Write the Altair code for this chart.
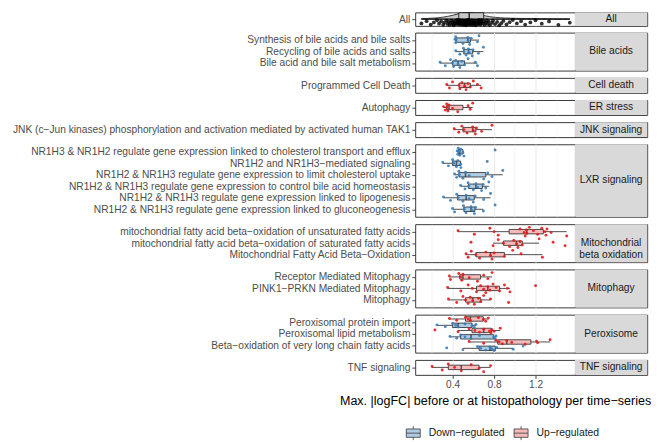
import altair as alt
import pandas as pd

DOWN = "Down−regulated"
UP = "Up−regulated"
DIRS = [DOWN, UP]
POINT_COLORS = ["#377EB8", "#E41A1C"]
BOX_FILLS = ["#AFCBE3", "#F7BABB"]
TITLE = "Max. |logFC| before or at histopathology per time−series"
GRID_VALUES = [0.2, 0.4, 0.6, 0.8, 1.0, 1.2, 1.4]

# "All" distribution
all_values = [
    0.10, 0.15, 0.19, 0.22, 0.25, 0.27, 0.29, 0.31, 0.32, 0.34, 0.35, 0.36, 0.37,
    0.38, 0.39, 0.40, 0.405, 0.41, 0.42, 0.425, 0.43, 0.44, 0.445, 0.45, 0.455, 0.46,
    0.465, 0.47, 0.475, 0.48, 0.485, 0.49, 0.495, 0.50, 0.505, 0.51, 0.515, 0.52,
    0.522, 0.525, 0.53, 0.533, 0.536, 0.54, 0.543, 0.546, 0.55, 0.552, 0.555, 0.558,
    0.56, 0.565, 0.57, 0.575, 0.58, 0.585, 0.59, 0.595, 0.60, 0.605, 0.61, 0.615,
    0.62, 0.625, 0.63, 0.64, 0.645, 0.65, 0.655, 0.66, 0.665, 0.67, 0.675, 0.68,
    0.69, 0.70, 0.71, 0.72, 0.73, 0.74, 0.75, 0.76, 0.78, 0.79, 0.81, 0.83, 0.85,
    0.87, 0.89, 0.92, 0.95, 0.98, 1.02, 1.06, 1.10, 1.15, 1.20, 1.26, 1.33, 1.42, 1.53,
]

bile_synthesis = [0.425, 0.43, 0.43, 0.435, 0.50, 0.547, 0.55, 0.565, 0.58, 0.64, 0.655]
bile_recycling = [0.431, 0.47, 0.505, 0.51, 0.53, 0.553, 0.56, 0.59, 0.598, 0.65, 0.697]
bile_metabolism = [0.28, 0.33, 0.38, 0.40, 0.41, 0.43, 0.453, 0.47, 0.49, 0.516, 0.55, 0.62, 0.64]
cell_death = [0.344, 0.37, 0.40, 0.4625, 0.47, 0.49, 0.516, 0.53, 0.55, 0.572, 0.60, 0.64, 0.675]
er_autophagy = [0.313, 0.33, 0.343, 0.345, 0.355, 0.366, 0.40, 0.45, 0.55, 0.57, 0.594]
jnk_tak1 = [0.416, 0.46, 0.49, 0.51, 0.54, 0.594, 0.60, 0.62, 0.63, 0.68, 0.78]
lxr_efflux = [0.445, 0.45, 0.455, 0.46, 0.47, 0.48, 0.50, 0.51, 0.81]
lxr_signaling = [0.306, 0.36, 0.40, 0.41, 0.4375, 0.45, 0.478, 0.48, 0.734]
lxr_uptake = [0.42, 0.44, 0.46, 0.465, 0.50, 0.525, 0.56, 0.70, 0.74, 0.78, 0.884]
lxr_bile = [0.478, 0.52, 0.55, 0.556, 0.60, 0.625, 0.64, 0.68, 0.695, 0.72, 0.75]
lxr_lipogenesis = [0.3125, 0.38, 0.44, 0.454, 0.50, 0.531, 0.56, 0.60, 0.618, 0.70, 0.766]
lxr_gluconeogenesis = [0.40, 0.42, 0.505, 0.513, 0.53, 0.578, 0.59, 0.61, 0.622, 0.697, 0.81]
mito_unsat = [0.453, 0.61, 0.76, 0.80, 0.84, 1.05, 1.09, 1.10, 1.11, 1.116, 1.14, 1.18,
              1.22, 1.26, 1.29, 1.30, 1.31, 1.35, 1.50]
mito_sat = [0.578, 0.79, 0.84, 0.89, 0.95, 0.99, 1.016, 1.03, 1.05, 1.072, 1.234, 1.369, 1.484]
mito_faox = [0.53, 0.55, 0.58, 0.625, 0.66, 0.72, 0.766, 0.78, 0.80, 0.90, 0.98, 1.06, 1.266]
mitoph_receptor = [0.369, 0.38, 0.46, 0.478, 0.49, 0.50, 0.56, 0.64, 0.70, 0.74, 0.781]
mitoph_pink1 = [0.353, 0.48, 0.55, 0.59, 0.631, 0.67, 0.70, 0.72, 0.74, 0.76, 0.79, 0.82,
                0.853, 0.90, 0.93, 0.953, 1.20]
mitoph_general = [0.36, 0.44, 0.50, 0.525, 0.55, 0.57, 0.594, 0.61, 0.65, 0.672, 0.70, 0.766, 0.94]
perox_import_up = [0.37, 0.44, 0.525, 0.55, 0.572, 0.65, 0.697, 0.72, 0.744]
perox_import_down = [0.25, 0.33, 0.40, 0.43, 0.453, 0.52, 0.5875, 0.61, 0.625]
perox_lipid_up = [0.23, 0.453, 0.56, 0.615, 0.66, 0.70, 0.756, 0.77, 0.78, 0.80, 0.86]
perox_lipid_down = [0.375, 0.44, 0.478, 0.52, 0.578, 0.66, 0.797, 0.81, 0.82]
perox_vlcfa_up = [0.56, 0.70, 0.82, 0.85, 0.88, 0.922, 0.97, 1.10, 1.21, 1.22, 1.34]
perox_vlcfa_down = [0.344, 0.50, 0.64, 0.672, 0.72, 0.76, 0.78, 0.80, 0.825, 0.984, 1.08]
tnf_signaling = [0.203, 0.30, 0.359, 0.42, 0.484, 0.58, 0.656, 0.70, 0.766]

SERIES = [
    ("Bile acids", "Synthesis of bile acids and bile salts", DOWN, bile_synthesis),
    ("Bile acids", "Recycling of bile acids and salts", DOWN, bile_recycling),
    ("Bile acids", "Bile acid and bile salt metabolism", DOWN, bile_metabolism),
    ("Cell death", "Programmed Cell Death", UP, cell_death),
    ("ER stress", "Autophagy", UP, er_autophagy),
    ("JNK signaling", "JNK (c−Jun kinases) phosphorylation and  activation mediated by activated human TAK1", UP, jnk_tak1),
    ("LXR signaling", "NR1H3 & NR1H2 regulate gene expression linked to cholesterol transport and efflux", DOWN, lxr_efflux),
    ("LXR signaling", "NR1H2 and NR1H3−mediated signaling", DOWN, lxr_signaling),
    ("LXR signaling", "NR1H2 & NR1H3 regulate gene expression to limit cholesterol uptake", DOWN, lxr_uptake),
    ("LXR signaling", "NR1H2 & NR1H3 regulate gene expression to control bile acid homeostasis", DOWN, lxr_bile),
    ("LXR signaling", "NR1H2 & NR1H3 regulate gene expression linked to lipogenesis", DOWN, lxr_lipogenesis),
    ("LXR signaling", "NR1H2 & NR1H3 regulate gene expression linked to gluconeogenesis", DOWN, lxr_gluconeogenesis),
    ("Mito", "mitochondrial fatty acid beta−oxidation of unsaturated fatty acids", UP, mito_unsat),
    ("Mito", "mitochondrial fatty acid beta−oxidation of saturated fatty acids", UP, mito_sat),
    ("Mito", "Mitochondrial Fatty Acid Beta−Oxidation", UP, mito_faox),
    ("Mitophagy", "Receptor Mediated Mitophagy", UP, mitoph_receptor),
    ("Mitophagy", "PINK1−PRKN Mediated Mitophagy", UP, mitoph_pink1),
    ("Mitophagy", "Mitophagy", UP, mitoph_general),
    ("Peroxisome", "Peroxisomal protein import", UP, perox_import_up),
    ("Peroxisome", "Peroxisomal protein import", DOWN, perox_import_down),
    ("Peroxisome", "Peroxisomal lipid metabolism", UP, perox_lipid_up),
    ("Peroxisome", "Peroxisomal lipid metabolism", DOWN, perox_lipid_down),
    ("Peroxisome", "Beta−oxidation of very long chain fatty acids", UP, perox_vlcfa_up),
    ("Peroxisome", "Beta−oxidation of very long chain fatty acids", DOWN, perox_vlcfa_down),
    ("TNF signaling", "TNF signaling", UP, tnf_signaling),
]

GROUPS = [
    ("Bile acids", "Bile acids"),
    ("Cell death", "Cell death"),
    ("ER stress", "ER stress"),
    ("JNK signaling", "JNK signaling"),
    ("LXR signaling", "LXR signaling"),
    ("Mito", "Mitochondrial\nbeta oxidation"),
    ("Mitophagy", "Mitophagy"),
    ("Peroxisome", "Peroxisome"),
    ("TNF signaling", "TNF signaling"),
]

records = []
for g, p, d, vals in SERIES:
    for v in vals:
        records.append({"group": g, "pathway": p, "dir": d, "v": v})
df = pd.DataFrame(records)

STEP = 11.95
PAD = 0.65
PANEL_W = 166
STRIP_W = 75
FONT = "Liberation Sans"

X_SCALE = alt.Scale(domain=[0.04, 1.58], nice=False, zero=False)
OFF = alt.Scale(domain=[-10, 10], range=[-10, 10])
MAJOR = "round(datum.value * 10) % 4 == 0"


def x_axis(last):
    kw = dict(values=GRID_VALUES, grid=True, gridColor="#EBEBEB",
              gridWidth={"condition": {"test": MAJOR, "value": 1.1}, "value": 0.55},
              domain=False)
    if last:
        kw.update(labelExpr=MAJOR + " ? format(datum.value, '.1f') : ''",
                  ticks=True, tickSize=3.5, tickColor="#333333",
                  tickOpacity={"condition": {"test": MAJOR, "value": 1}, "value": 0},
                  labelFontSize=10.5, labelColor="#4D4D4D", labelPadding=1.5,
                  title=TITLE, titleFontSize=13, titleFontWeight="normal",
                  titleColor="#000000", titlePadding=5)
    else:
        kw.update(labels=False, ticks=False, title=None)
    return alt.Axis(**kw)


def y_axis(**extra):
    return alt.Axis(title=None, labelLimit=0,
                    labelFontSize=10.6, labelColor="#4D4D4D", tickColor="#333333",
                    tickSize=3.5, tickWidth=0.9, domain=False, grid=False,
                    labelPadding=2, **extra)


def strip(label, height):
    d = pd.DataFrame({"label": [label]})
    rect = alt.Chart(d).mark_rect(fill="#D9D9D9").encode(
        x=alt.value(0), x2=alt.value(STRIP_W), y=alt.value(0), y2=alt.value(height))
    txt = alt.Chart(d).mark_text(fontSize=10.6, color="#1A1A1A", lineBreak="\n",
                                 baseline="middle", align="center").encode(
        x=alt.value(STRIP_W / 2), y=alt.value(height / 2), text="label:N")
    return (rect + txt).properties(width=STRIP_W, height=height)


def panel(g, last):
    sub = df[df["group"] == g]
    pathways = list(dict.fromkeys(sub["pathway"]))
    dodged = sub["dir"].nunique() > 1
    height = STEP * (len(pathways) - 1 + 2 * PAD)
    dodge_expr = "datum.dir == '" + UP + "' ? -3.3 : 3.3" if dodged else "0"
    jit = "4.6" if dodged else "9"
    y = alt.Y("pathway:N", scale=alt.Scale(type="point", padding=PAD, domain=pathways),
              axis=y_axis())
    xax = x_axis(last)
    base = alt.Chart(sub).transform_calculate(dodge=dodge_expr)
    stats = base.transform_joinaggregate(
        q1="q1(v)", q3="q3(v)", med="median(v)", groupby=["pathway", "dir"]
    ).transform_calculate(
        lo="datum.q1 - 1.5 * (datum.q3 - datum.q1)",
        hi="datum.q3 + 1.5 * (datum.q3 - datum.q1)",
    ).transform_filter("datum.v >= datum.lo && datum.v <= datum.hi").transform_aggregate(
        wmin="min(v)", wmax="max(v)", bq1="min(q1)", bq3="min(q3)", bmed="min(med)",
        groupby=["pathway", "dir", "dodge"],
    )
    whisk = stats.mark_rule(color="#333333", strokeWidth=0.9).encode(
        x=alt.X("wmin:Q", scale=X_SCALE, axis=xax), x2="wmax:Q", y=y,
        yOffset=alt.YOffset("dodge:Q", scale=OFF))
    box = stats.mark_bar(size=4.6, stroke="#333333", strokeWidth=0.9).encode(
        x=alt.X("bq1:Q", scale=X_SCALE, axis=xax), x2="bq3:Q", y=y,
        yOffset=alt.YOffset("dodge:Q", scale=OFF),
        fill=alt.Fill("dir:N", scale=alt.Scale(domain=DIRS, range=BOX_FILLS),
                      legend=alt.Legend(title=None)))
    med = stats.mark_tick(size=4.6, thickness=1.6, color="#222222").encode(
        x=alt.X("bmed:Q", scale=X_SCALE, axis=xax), y=y,
        yOffset=alt.YOffset("dodge:Q", scale=OFF))
    jo_expr = "datum.dodge + (((datum.rn * 37) % 11) / 10 - 0.5) * " + jit
    pts = base.transform_window(rn="row_number()", groupby=["pathway", "dir"]).transform_calculate(
        jo=jo_expr
    ).mark_circle(size=9, opacity=0.9).encode(
        x=alt.X("v:Q", scale=X_SCALE, axis=xax), y=y,
        yOffset=alt.YOffset("jo:Q", scale=OFF),
        color=alt.Color("dir:N", scale=alt.Scale(domain=DIRS, range=POINT_COLORS), legend=None))
    layer = alt.layer(whisk, box, med, pts).properties(width=PANEL_W, height=height)
    return layer, height


def all_panel():
    d = pd.DataFrame({"v": all_values})
    base = alt.Chart(d)
    xax = x_axis(False)
    ys = alt.Scale(domain=[-1, 1], nice=False, zero=False)
    yax = y_axis(values=[0], labelExpr="'All'")
    violin = base.transform_density(
        "v", as_=["v", "density"], extent=[min(all_values), max(all_values)],
        bandwidth=0.06, steps=120
    ).transform_joinaggregate(dmax="max(density)").transform_calculate(
        dn="datum.density / datum.dmax * 0.97"
    ).mark_area(fill="#C8C8C8", stroke="#000000", strokeWidth=0.8).encode(
        x=alt.X("v:Q", scale=X_SCALE, axis=xax),
        y=alt.Y("dn:Q", scale=ys, axis=yax), y2=alt.datum(0))
    stats = base.transform_aggregate(
        q1="q1(v)", med="median(v)", q3="q3(v)", lo="min(v)", hi="max(v)")
    box = stats.mark_rect(fill="#C8C8C8", stroke="#000000", strokeWidth=0.8).encode(
        x=alt.X("q1:Q", scale=X_SCALE, axis=xax), x2="q3:Q",
        y=alt.YDatum(0, scale=ys, axis=yax), y2=alt.datum(0.95))
    med = stats.mark_rule(color="#000000", strokeWidth=1.2).encode(
        x=alt.X("med:Q", scale=X_SCALE, axis=xax),
        y=alt.YDatum(0, scale=ys, axis=yax), y2=alt.datum(0.95))
    whisk = stats.mark_rule(color="#000000", strokeWidth=0.9).encode(
        x=alt.X("lo:Q", scale=X_SCALE, axis=xax), x2="hi:Q",
        y=alt.YDatum(0, scale=ys, axis=yax))
    pts = base.transform_window(rn="row_number()").transform_calculate(
        jy="-0.12 - ((datum.rn * 37) % 23) / 22 * 0.8"
    ).mark_circle(size=16, color="#000000", opacity=0.8).encode(
        x=alt.X("v:Q", scale=X_SCALE, axis=xax),
        y=alt.Y("jy:Q", scale=ys, axis=yax))
    h = 14
    return alt.layer(violin, box, med, whisk, pts).properties(width=PANEL_W, height=h), h


cells = []
ap, ah = all_panel()
cells += [ap, strip("All", ah)]
for i, (g, label) in enumerate(GROUPS):
    p, h = panel(g, i == len(GROUPS) - 1)
    cells += [p, strip(label, h)]

BOX_PATH = "M-1,-0.6H1V0.6H-1Z M-1,0H1 M0,-0.6V-1 M0,0.6V1"

chart = alt.concat(
    *cells, columns=2, spacing=alt.RowColnumber(row=7, column=0), bounds="flush", align="each"
).properties(
    padding={"left": 0, "top": -6, "right": 0, "bottom": 0}
).configure(font=FONT).configure_view(
    stroke="#333333", strokeWidth=1
).configure_legend(
    orient="none", legendX=-10, legendY=429, direction="horizontal",
    labelFontSize=10.8, labelColor="#1A1A1A", symbolType=BOX_PATH, symbolSize=210,
    symbolStrokeColor="#333333", symbolStrokeWidth=0.8, labelOffset=8, columnPadding=8,
)

chart.save("out.html", embed_options={"renderer": "svg", "actions": False})
